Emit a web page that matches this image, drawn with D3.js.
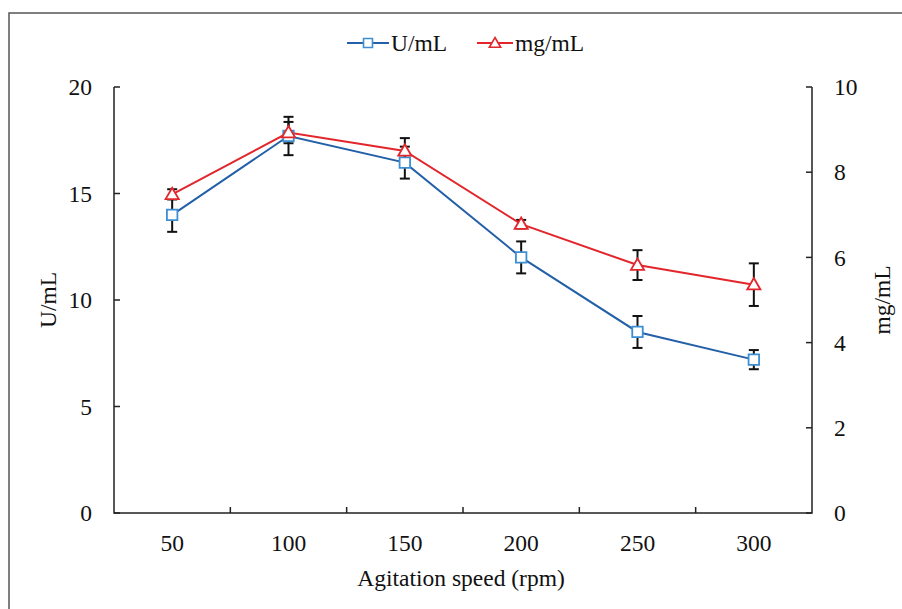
<!DOCTYPE html>
<html>
<head>
<meta charset="utf-8">
<script src="https://cdn.jsdelivr.net/npm/d3@7"></script>
<style>
  body { margin: 0; background: #fff; }
  svg text { font-family: "Liberation Serif", "DejaVu Serif", serif; fill: #111; }
</style>
</head>
<body>
<svg id="chart" width="902" height="609" font-family="Liberation Serif, serif"></svg>
<script>
// data
const speeds = ["50", "100", "150", "200", "250", "300"];
const unitsPerMl = [14.0, 17.7, 16.45, 12.0, 8.5, 7.2];
const unitsErr = [0.8, 0.9, 0.75, 0.75, 0.75, 0.45];
const mgPerMl = [7.48, 8.93, 8.5, 6.78, 5.82, 5.36];
const mgErr = [0.12, 0.25, 0.3, 0.1, 0.35, 0.5];
const leftTicks = [0, 5, 10, 15, 20];
const rightTicks = [0, 2, 4, 6, 8, 10];

const blueLine = "#2360a8", blueMark = "#3d8fd1", red = "#e2262b";
const fs = 23.5;

const svg = d3.select("#chart");
const m = {left: 114, right: 812, top: 87, bottom: 513};

// outer frame (only top and left edges are in the picture)
svg.append("path")
    .attr("d", "M9,609 V13 H902")
    .attr("fill", "none").attr("stroke", "#555").attr("stroke-width", 1.5);

const x = d3.scaleBand().domain(speeds).range([m.left, m.right]).padding(0);
const yL = d3.scaleLinear().domain([0, 20]).range([m.bottom, m.top]);
const yR = d3.scaleLinear().domain([0, 10]).range([m.bottom, m.top]);
const cx = d => x(d) + x.bandwidth() / 2;

// axes
const axisG = svg.append("g").attr("stroke", "#222").attr("stroke-width", 1.5);
axisG.append("path").attr("fill", "none")
    .attr("d", `M${m.left},${m.top} V${m.bottom} H${m.right} V${m.top}`);
leftTicks.forEach(t => axisG.append("line")
    .attr("x1", m.left).attr("x2", m.left + 6).attr("y1", yL(t)).attr("y2", yL(t)));
rightTicks.forEach(t => axisG.append("line")
    .attr("x1", m.right).attr("x2", m.right - 6).attr("y1", yR(t)).attr("y2", yR(t)));
speeds.slice(1).forEach(s => axisG.append("line")
    .attr("x1", x(s)).attr("x2", x(s)).attr("y1", m.bottom).attr("y2", m.bottom - 6));

svg.selectAll(".lt").data(leftTicks).enter().append("text")
    .attr("x", 92).attr("y", d => yL(d)).attr("dy", "0.35em")
    .attr("text-anchor", "end").attr("font-size", fs).text(d => d);
svg.selectAll(".rt").data(rightTicks).enter().append("text")
    .attr("x", 834).attr("y", d => yR(d)).attr("dy", "0.35em")
    .attr("text-anchor", "start").attr("font-size", fs).text(d => d);
svg.selectAll(".xt").data(speeds).enter().append("text")
    .attr("x", d => cx(d)).attr("y", 543).attr("dy", "0.35em")
    .attr("text-anchor", "middle").attr("font-size", fs).text(d => d);

svg.append("text").attr("x", 461).attr("y", 578).attr("dy", "0.35em")
    .attr("text-anchor", "middle").attr("font-size", fs).text("Agitation speed (rpm)");
svg.append("text").attr("transform", "translate(48,300) rotate(-90)").attr("dy", "0.35em")
    .attr("text-anchor", "middle").attr("font-size", fs).text("U/mL");
svg.append("text").attr("transform", "translate(882,300) rotate(-90)").attr("dy", "0.35em")
    .attr("text-anchor", "middle").attr("font-size", fs).text("mg/mL");

const series = [
  {vals: unitsPerMl, err: unitsErr, y: yL, line: blueLine, mark: blueMark, shape: d3.symbolSquare, size: 110},
  {vals: mgPerMl, err: mgErr, y: yR, line: red, mark: red, shape: d3.symbolTriangle, size: 75}
];

// error bars first, so markers sit on top
series.forEach(s => {
  const g = svg.append("g").attr("stroke", "#111").attr("stroke-width", 2);
  speeds.forEach((sp, i) => {
    const lo = s.y(s.vals[i] - s.err[i]), hi = s.y(s.vals[i] + s.err[i]);
    g.append("line").attr("x1", cx(sp)).attr("x2", cx(sp)).attr("y1", lo).attr("y2", hi);
    g.append("line").attr("x1", cx(sp) - 5).attr("x2", cx(sp) + 5).attr("y1", lo).attr("y2", lo);
    g.append("line").attr("x1", cx(sp) - 5).attr("x2", cx(sp) + 5).attr("y1", hi).attr("y2", hi);
  });
});

series.forEach(s => {
  const line = d3.line().x((d, i) => cx(speeds[i])).y(d => s.y(d));
  svg.append("path").datum(s.vals).attr("d", line)
      .attr("fill", "none").attr("stroke", s.line).attr("stroke-width", 2);
});
series.forEach(s => {
  svg.selectAll(null).data(s.vals).enter().append("path")
      .attr("d", d3.symbol().type(s.shape).size(s.size))
      .attr("transform", (d, i) => `translate(${cx(speeds[i])},${s.y(d) + (s.shape === d3.symbolTriangle ? 1 : 0)})`)
      .attr("fill", "#fff").attr("stroke", s.mark).attr("stroke-width", 1.8);
});

// legend
const legend = [
  {label: "U/mL", x: 347, w: 42, line: blueLine, mark: blueMark, shape: d3.symbolSquare, size: 80},
  {label: "mg/mL", x: 477, w: 36, line: red, mark: red, shape: d3.symbolTriangle, size: 55}
];
legend.forEach(l => {
  const g = svg.append("g").attr("transform", `translate(${l.x},43)`);
  g.append("line").attr("x1", 0).attr("x2", l.w).attr("stroke", l.line).attr("stroke-width", 2);
  g.append("path").attr("d", d3.symbol().type(l.shape).size(l.size))
      .attr("transform", `translate(${l.w / 2},${l.shape === d3.symbolTriangle ? 1 : 0})`)
      .attr("fill", "#fff").attr("stroke", l.mark).attr("stroke-width", 1.6);
  g.append("text").attr("x", l.w + 2).attr("dy", "0.35em").attr("font-size", fs).text(l.label);
});
</script>
</body>
</html>
